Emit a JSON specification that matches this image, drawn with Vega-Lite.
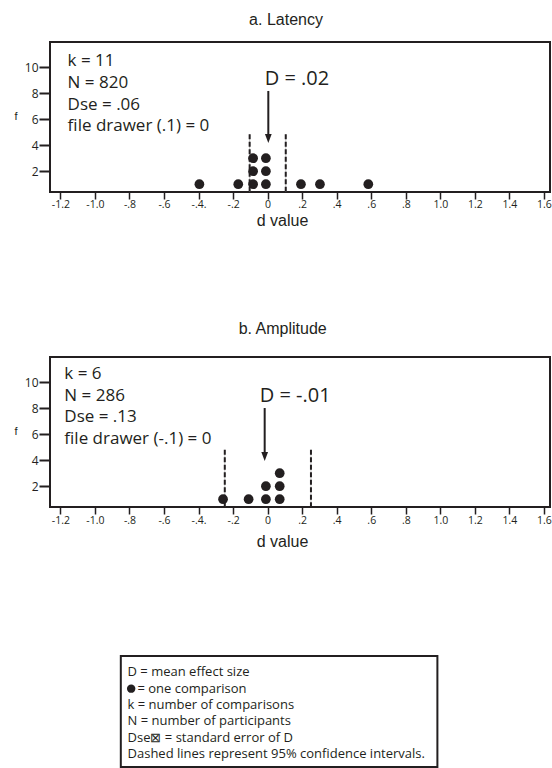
{
  "$schema": "https://vega.github.io/schema/vega-lite/v6.json",
  "padding": {"left": 13, "top": 10, "right": 0, "bottom": 0},
  "background": "white",
  "spacing": 104,
  "config": {
    "view": {"stroke": "#231f20", "strokeWidth": 2},
    "axis": {"domain": false, "grid": false, "labelColor": "#231f20", "tickColor": "#231f20", "titleColor": "#231f20", "labelFont": "Open Sans", "titleFont": "Liberation Sans", "titleFontWeight": "normal"},
    "title": {"font": "Liberation Sans", "fontSize": 16, "fontWeight": "normal", "color": "#231f20", "anchor": "middle", "frame": "group", "baseline": "alphabetic"},
    "text": {"font": "Open Sans", "color": "#231f20"}
  },
  "datasets": {
    "dotsA": [
      {"d": -0.395, "f": 1}, {"d": -0.17, "f": 1},
      {"d": -0.084, "f": 1}, {"d": -0.084, "f": 2}, {"d": -0.084, "f": 3},
      {"d": -0.01, "f": 1}, {"d": -0.01, "f": 2}, {"d": -0.01, "f": 3},
      {"d": 0.193, "f": 1}, {"d": 0.303, "f": 1}, {"d": 0.583, "f": 1}
    ],
    "ciA": [{"d": -0.104}, {"d": 0.105}],
    "meanA": [{"d": 0.004, "label": "D = .02"}],
    "dotsB": [
      {"d": -0.258, "f": 1}, {"d": -0.11, "f": 1},
      {"d": -0.01, "f": 1}, {"d": -0.01, "f": 2},
      {"d": 0.07, "f": 1}, {"d": 0.07, "f": 2}, {"d": 0.07, "f": 3}
    ],
    "ciB": [{"d": -0.248}, {"d": 0.251}],
    "meanB": [{"d": -0.017, "label": "D = -.01"}],
    "legend": [
      {"line": 1, "label": "D = mean effect size"},
      {"line": 2, "label": "= one comparison"},
      {"line": 3, "label": "k = number of comparisons"},
      {"line": 4, "label": "N = number of participants"},
      {"line": 5, "label": "Dse⊠ = standard error of D"},
      {"line": 6, "label": "Dashed lines represent 95% confidence intervals."}
    ]
  },
  "vconcat": [
    {
      "spacing": 91,
      "vconcat": [
        {
          "title": {"text": "a. Latency", "dx": -14, "offset": 14.5},
          "width": 500,
          "height": 150,
          "encoding": {
            "x": {"type": "quantitative", "scale": {"domain": [-1.26, 1.635], "nice": false, "zero": false},
              "axis": {"values": [-1.2, -1.0, -0.8, -0.6, -0.4, -0.2, 0, 0.2, 0.4, 0.6, 0.8, 1.0, 1.2, 1.4, 1.6],
                "labelExpr": "(datum.value < 0 ? '-' : '') + (abs(datum.value) < 0.001 ? '0' : abs(datum.value) < 0.999 ? substring(format(abs(datum.value), '.1f'), 1) : format(abs(datum.value), '.1f')) + (abs(datum.value + 0.4) < 0.001 ? '.' : '')",
                "tickSize": 7, "tickWidth": 1.5, "labelFontSize": 10.5, "labelPadding": 0,
                "title": "d value", "titleFontSize": 16, "titleX": 232, "titleY": 28, "titleBaseline": "middle", "titleAlign": "center"}},
            "y": {"type": "quantitative", "scale": {"domain": [0.4, 11.95], "nice": false, "zero": false},
              "axis": {"values": [2, 4, 6, 8, 10], "tickSize": 11, "tickWidth": 2, "labelFontSize": 12, "labelPadding": 1,
                "title": "f", "titleAngle": 0, "titleFontSize": 11, "titleX": -36, "titleY": 74, "titleAlign": "left", "titleBaseline": "middle"}}
          },
          "layer": [
            {"data": {"name": "ciA"}, "mark": {"type": "rule", "color": "#c8c8c8", "strokeWidth": 1},
              "encoding": {"x": {"field": "d"}, "y": {"datum": 4.85}, "y2": {"datum": 0.4}}},
            {"data": {"name": "dotsA"}, "mark": {"type": "circle", "size": 95, "color": "#231f20", "opacity": 1},
              "encoding": {"x": {"field": "d"}, "y": {"field": "f"}}},
            {"data": {"name": "ciA"}, "mark": {"type": "rule", "color": "#231f20", "strokeWidth": 2, "strokeDash": [5, 2.5]},
              "encoding": {"x": {"field": "d"}, "y": {"datum": 4.85}, "y2": {"datum": 0.4}}},
            {"data": {"name": "meanA"}, "mark": {"type": "rule", "color": "#231f20", "strokeWidth": 2},
              "encoding": {"x": {"field": "d"}, "y": {"datum": 8.18}, "y2": {"datum": 4.8}}},
            {"data": {"name": "meanA"}, "mark": {"type": "point", "shape": "M-0.75,-1L0.75,-1L0,1Z", "size": 81, "filled": true, "color": "#231f20", "opacity": 1, "strokeWidth": 0},
              "encoding": {"x": {"field": "d"}, "y": {"datum": 4.52}}},
            {"data": {"name": "meanA"}, "mark": {"type": "text", "fontSize": 20, "align": "left", "baseline": "alphabetic"},
              "encoding": {"x": {"datum": -0.017}, "y": {"datum": 8.64}, "text": {"field": "label"}}},
            {"data": {"values": [{}]}, "mark": {"type": "text", "fontSize": 17, "align": "left", "baseline": "alphabetic", "lineHeight": 21.7},
              "encoding": {"x": {"datum": -1.158}, "y": {"datum": 10.08}, "text": {"value": ["k = 11", "N = 820", "Dse = .06", "file drawer (.1) = 0"]}}}
          ]
        },
        {
          "title": {"text": "b. Amplitude", "dx": -17.3, "offset": 20},
          "width": 500,
          "height": 150,
          "encoding": {
            "x": {"type": "quantitative", "scale": {"domain": [-1.26, 1.635], "nice": false, "zero": false},
              "axis": {"values": [-1.2, -1.0, -0.8, -0.6, -0.4, -0.2, 0, 0.2, 0.4, 0.6, 0.8, 1.0, 1.2, 1.4, 1.6],
                "labelExpr": "(datum.value < 0 ? '-' : '') + (abs(datum.value) < 0.001 ? '0' : abs(datum.value) < 0.999 ? substring(format(abs(datum.value), '.1f'), 1) : format(abs(datum.value), '.1f')) + (abs(datum.value + 0.4) < 0.001 ? '.' : '')",
                "tickSize": 7, "tickWidth": 1.5, "labelFontSize": 10.5, "labelPadding": 1,
                "title": "d value", "titleFontSize": 16, "titleX": 232, "titleY": 34.3, "titleBaseline": "middle", "titleAlign": "center"}},
            "y": {"type": "quantitative", "scale": {"domain": [0.4, 11.95], "nice": false, "zero": false},
              "axis": {"values": [2, 4, 6, 8, 10], "tickSize": 11, "tickWidth": 2, "labelFontSize": 12, "labelPadding": 1,
                "title": "f", "titleAngle": 0, "titleFontSize": 11, "titleX": -36, "titleY": 74, "titleAlign": "left", "titleBaseline": "middle"}}
          },
          "layer": [
            {"data": {"name": "ciB"}, "mark": {"type": "rule", "color": "#c8c8c8", "strokeWidth": 1},
              "encoding": {"x": {"field": "d"}, "y": {"datum": 4.8}, "y2": {"datum": 0.4}}},
            {"data": {"name": "dotsB"}, "mark": {"type": "circle", "size": 95, "color": "#231f20", "opacity": 1},
              "encoding": {"x": {"field": "d"}, "y": {"field": "f"}}},
            {"data": {"name": "ciB"}, "mark": {"type": "rule", "color": "#231f20", "strokeWidth": 2, "strokeDash": [5, 2.5]},
              "encoding": {"x": {"field": "d"}, "y": {"datum": 4.8}, "y2": {"datum": 0.4}}},
            {"data": {"name": "meanB"}, "mark": {"type": "rule", "color": "#231f20", "strokeWidth": 2},
              "encoding": {"x": {"field": "d"}, "y": {"datum": 8.02}, "y2": {"datum": 4.6}}},
            {"data": {"name": "meanB"}, "mark": {"type": "point", "shape": "M-0.75,-1L0.75,-1L0,1Z", "size": 81, "filled": true, "color": "#231f20", "opacity": 1, "strokeWidth": 0},
              "encoding": {"x": {"field": "d"}, "y": {"datum": 4.28}}},
            {"data": {"name": "meanB"}, "mark": {"type": "text", "fontSize": 20, "align": "left", "baseline": "alphabetic"},
              "encoding": {"x": {"datum": -0.046}, "y": {"datum": 8.46}, "text": {"field": "label"}}},
            {"data": {"values": [{}]}, "mark": {"type": "text", "fontSize": 17, "align": "left", "baseline": "alphabetic", "lineHeight": 21.7},
              "encoding": {"x": {"datum": -1.177}, "y": {"datum": 10.25}, "text": {"value": ["k = 6", "N = 286", "Dse = .13", "file drawer (-.1) = 0"]}}}
          ]
        }
      ]
    },
    {
      "width": 500,
      "height": 111,
      "view": {"stroke": null},
      "data": {"name": "legend"},
      "encoding": {
        "x": {"type": "quantitative", "scale": {"domain": [-1.26, 1.635], "nice": false, "zero": false}, "axis": null},
        "y": {"type": "quantitative", "scale": {"domain": [0, 6.8], "nice": false, "zero": false, "reverse": true}, "axis": null}
      },
      "layer": [
        {"data": {"values": [{}]}, "mark": {"type": "rect", "fill": null, "stroke": "#231f20", "strokeWidth": 2},
          "encoding": {"x": {"datum": -0.85}, "x2": {"datum": 0.983}, "y": {"datum": 0}, "y2": {"datum": 6.8}}},
        {"transform": [{"filter": "datum.line != 2"}], "mark": {"type": "text", "fontSize": 13, "align": "left", "baseline": "middle"},
          "encoding": {"x": {"datum": -0.811}, "y": {"field": "line", "type": "quantitative"}, "text": {"field": "label"}}},
        {"transform": [{"filter": "datum.line == 2"}], "mark": {"type": "text", "fontSize": 13, "align": "left", "baseline": "middle"},
          "encoding": {"x": {"datum": -0.7536}, "y": {"field": "line", "type": "quantitative"}, "text": {"field": "label"}}},
        {"transform": [{"filter": "datum.line == 2"}], "mark": {"type": "circle", "size": 71, "color": "#231f20", "opacity": 1},
          "encoding": {"x": {"datum": -0.79}, "y": {"field": "line", "type": "quantitative"}}}
      ]
    }
  ]
}
